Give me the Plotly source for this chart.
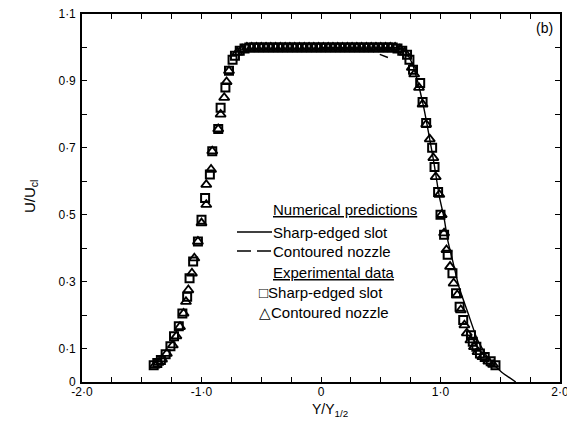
import plotly.graph_objects as go

# ---------------- data ----------------
# Numerical predictions (right half only)
num_sharp_x = [0.0, 0.60, 0.68, 0.72, 0.76, 0.80, 0.86, 0.90, 0.945, 0.99, 1.03, 1.06, 1.10, 1.155, 1.23, 1.31, 1.41, 1.51, 1.63]
num_sharp_y = [1.0, 1.0, 0.995, 0.98, 0.955, 0.91, 0.82, 0.745, 0.655, 0.555, 0.49, 0.425, 0.365, 0.284, 0.206, 0.126, 0.066, 0.03, 0.0]
num_cont_x = [0.0, 0.40, 0.46, 0.56]
num_cont_y = [1.0, 0.995, 0.984, 0.97]

# Experimental data: sharp-edged slot (squares)
sq_x = [-1.40, -1.37, -1.34, -1.30, -1.26, -1.23, -1.19, -1.16, -1.12, -1.10, -1.07, -1.03, -1.00,
        -0.97, -0.93, -0.91, -0.86, -0.84, -0.80, -0.77, -0.74,
        -0.72, -0.68, -0.64, -0.60, -0.56, -0.52, -0.48, -0.44, -0.40, -0.36, -0.32, -0.28, -0.24,
        -0.20, -0.16, -0.12, -0.08, -0.04, 0.00, 0.04, 0.08, 0.12, 0.16, 0.20, 0.24, 0.28, 0.32,
        0.36, 0.40, 0.44, 0.48, 0.52, 0.56, 0.60, 0.64, 0.68, 0.72,
        0.74, 0.77, 0.83, 0.85, 0.88, 0.93, 0.95, 0.98, 1.00, 1.03, 1.06, 1.10, 1.13, 1.16, 1.19,
        1.255, 1.27, 1.30, 1.33, 1.37, 1.42, 1.46]
sq_y = [0.050, 0.057, 0.066, 0.083, 0.107, 0.137, 0.167, 0.205, 0.255, 0.310, 0.360, 0.420, 0.485,
        0.550, 0.620, 0.690, 0.756, 0.820, 0.880, 0.930, 0.963,
        0.975, 0.990, 0.997, 1.0, 1.0, 1.0, 1.0, 1.0, 1.0, 1.0, 1.0, 1.0, 1.0,
        1.0, 1.0, 1.0, 1.0, 1.0, 1.0, 1.0, 1.0, 1.0, 1.0, 1.0, 1.0, 1.0, 1.0,
        1.0, 1.0, 1.0, 1.0, 1.0, 1.0, 1.0, 0.997, 0.990, 0.978,
        0.963, 0.933, 0.894, 0.837, 0.774, 0.700, 0.643, 0.568, 0.500, 0.440, 0.380, 0.325, 0.265, 0.225, 0.185,
        0.140, 0.120, 0.105, 0.085, 0.075, 0.062, 0.050]

# Experimental data: contoured nozzle (triangles)
tri_x = [-1.39, -1.36, -1.33, -1.29, -1.24, -1.21, -1.18, -1.15, -1.13, -1.11, -1.08, -1.06, -1.03, -1.00,
         -0.96, -0.96, -0.92, -0.91, -0.86, -0.84, -0.81, -0.79, -0.77,
         -0.70, -0.66, -0.62, -0.58, -0.54, -0.50, -0.46, -0.42, -0.38, -0.34, -0.30, -0.26, -0.22,
         -0.18, -0.14, -0.10, -0.06, -0.02, 0.02, 0.06, 0.10, 0.14, 0.18, 0.22, 0.26, 0.30, 0.34,
         0.38, 0.42, 0.46, 0.50, 0.54, 0.58, 0.62, 0.66, 0.70,
         0.76, 0.78, 0.82, 0.85, 0.88, 0.91, 0.94, 0.96, 0.99, 1.01, 1.03, 1.05, 1.08, 1.11, 1.14,
         1.17, 1.20, 1.22, 1.25, 1.28, 1.31, 1.35, 1.40, 1.44]
tri_y = [0.050, 0.058, 0.068, 0.085, 0.110, 0.137, 0.165, 0.205, 0.240, 0.275, 0.325, 0.370, 0.420, 0.475,
         0.530, 0.590, 0.635, 0.690, 0.756, 0.800, 0.850, 0.897, 0.930,
         0.985, 0.995, 1.0, 1.0, 1.0, 1.0, 1.0, 1.0, 1.0, 1.0, 1.0, 1.0, 1.0,
         1.0, 1.0, 1.0, 1.0, 1.0, 1.0, 1.0, 1.0, 1.0, 1.0, 1.0, 1.0, 1.0, 1.0,
         1.0, 1.0, 1.0, 1.0, 1.0, 1.0, 1.0, 0.995, 0.985,
         0.940, 0.920, 0.880, 0.830, 0.770, 0.726, 0.670, 0.613, 0.560, 0.500, 0.445, 0.395, 0.345, 0.295, 0.260,
         0.215, 0.170, 0.146, 0.125, 0.105, 0.090, 0.075, 0.062, 0.052]

x_tickvals = [-2.0, -1.75, -1.5, -1.25, -1.0, -0.75, -0.5, -0.25, 0.0, 0.25, 0.5, 0.75, 1.0, 1.25, 1.5, 1.75, 2.0]
x_ticktext = ["-2·0", "", "", "", "-1·0", "", "", "", "0", "", "", "", "1·0", "", "", "", "2·0"]
y_tickvals = [0.0, 0.1, 0.2, 0.3, 0.4, 0.5, 0.6, 0.7, 0.8, 0.9, 1.0, 1.1]
y_ticktext = ["0", "0·1", "", "0·3", "", "0·5", "", "0·7", "", "0·9", "", "1·1"]

# ---------------- figure ----------------
FONT = "Liberation Sans, Arial, sans-serif"
fig = go.Figure()
fig.add_trace(go.Scatter(x=num_sharp_x, y=num_sharp_y, mode="lines",
                         line=dict(color="black", width=1.4, shape="spline", smoothing=0.6),
                         name="Sharp-edged slot (numerical)"))
fig.add_trace(go.Scatter(x=num_cont_x, y=num_cont_y, mode="lines",
                         line=dict(color="black", width=1.4, dash="14px,6px"),
                         name="Contoured nozzle (numerical)"))
fig.add_trace(go.Scatter(x=sq_x, y=sq_y, mode="markers",
                         marker=dict(symbol="square-open", size=8, color="black", line=dict(width=2, color="black")),
                         name="Sharp-edged slot"))
fig.add_trace(go.Scatter(x=tri_x, y=tri_y, mode="markers",
                         marker=dict(symbol="triangle-up-open", size=9, color="black", line=dict(width=1.8, color="black")),
                         name="Contoured nozzle"))

# The page body has a default 8px margin, so the figure is drawn 8px in from the window's
# top-left corner; size and margins are chosen so the plot area lands at x 82..560, y 14..382.
OFF = 8
PLOT_L, PLOT_R, PLOT_T, PLOT_B = 82, 560, 14, 382
W, H = 575 - OFF, 429 - OFF
L, T = PLOT_L - OFF, PLOT_T - OFF
R, B = W - (PLOT_R - OFF), H - (PLOT_B - OFF)
pw, ph = PLOT_R - PLOT_L, PLOT_B - PLOT_T


def px(xp):
    return (xp - PLOT_L) / pw


def py(yp):
    return (PLOT_B - yp) / ph


axis_common = dict(showgrid=False, zeroline=False, showline=True, linecolor="black", linewidth=1.6,
                   mirror="ticks", ticks="inside", ticklen=5, tickwidth=1.3, tickcolor="black",
                   automargin=False, ticklabeloverflow="allow",
                   tickfont=dict(family=FONT, size=12, color="black"))
fig.update_xaxes(range=[-2.0, 2.0], tickmode="array", tickvals=x_tickvals, ticktext=x_ticktext,
                 ticklabelstandoff=-2, **axis_common)
fig.update_yaxes(range=[0.0, 1.1], tickmode="array", tickvals=y_tickvals, ticktext=y_ticktext,
                 ticklabelstandoff=2, **axis_common)

ann = []
ann.append(dict(x=px(30), y=py(197), xref="paper", yref="paper", text="U/U<sub>cl</sub>", textangle=-90,
                xanchor="center", yanchor="middle",
                showarrow=False, font=dict(family=FONT, size=15, color="black")))
ann.append(dict(x=px(330), y=py(410), xref="paper", yref="paper", text="Y/Y<sub>1/2</sub>",
                xanchor="center", yanchor="middle",
                showarrow=False, font=dict(family=FONT, size=14, color="black")))
ann.append(dict(x=px(544), y=py(28), xref="paper", yref="paper", text="(b)",
                xanchor="center", yanchor="middle",
                showarrow=False, font=dict(family=FONT, size=14, color="black")))
legend_items = [
    (271, 210, "<u>Numerical predictions</u>"),
    (271, 232, "Sharp-edged slot"),
    (271, 251, "Contoured nozzle"),
    (271, 272, "<u>Experimental data</u>"),
    (257, 292, "□Sharp-edged slot"),
    (257, 312, "△Contoured nozzle"),
]
for xx, yy, t in legend_items:
    ann.append(dict(x=px(xx), y=py(yy), xref="paper", yref="paper", text=t, xanchor="left", yanchor="middle",
                    showarrow=False, font=dict(family=FONT, size=15, color="black")))

shapes = [
    dict(type="line", xref="paper", yref="paper", x0=px(237), x1=px(272), y0=py(232), y1=py(232),
         line=dict(color="black", width=1.3)),
    dict(type="line", xref="paper", yref="paper", x0=px(237), x1=px(272), y0=py(251), y1=py(251),
         line=dict(color="black", width=1.3, dash="14px,6px")),
]

fig.update_layout(template="none", width=W, height=H, margin=dict(l=L, r=R, t=T, b=B, pad=0),
                  paper_bgcolor="white", plot_bgcolor="white", showlegend=False,
                  annotations=ann, shapes=shapes, font=dict(family=FONT, color="black"))

fig.write_html("out.html")
